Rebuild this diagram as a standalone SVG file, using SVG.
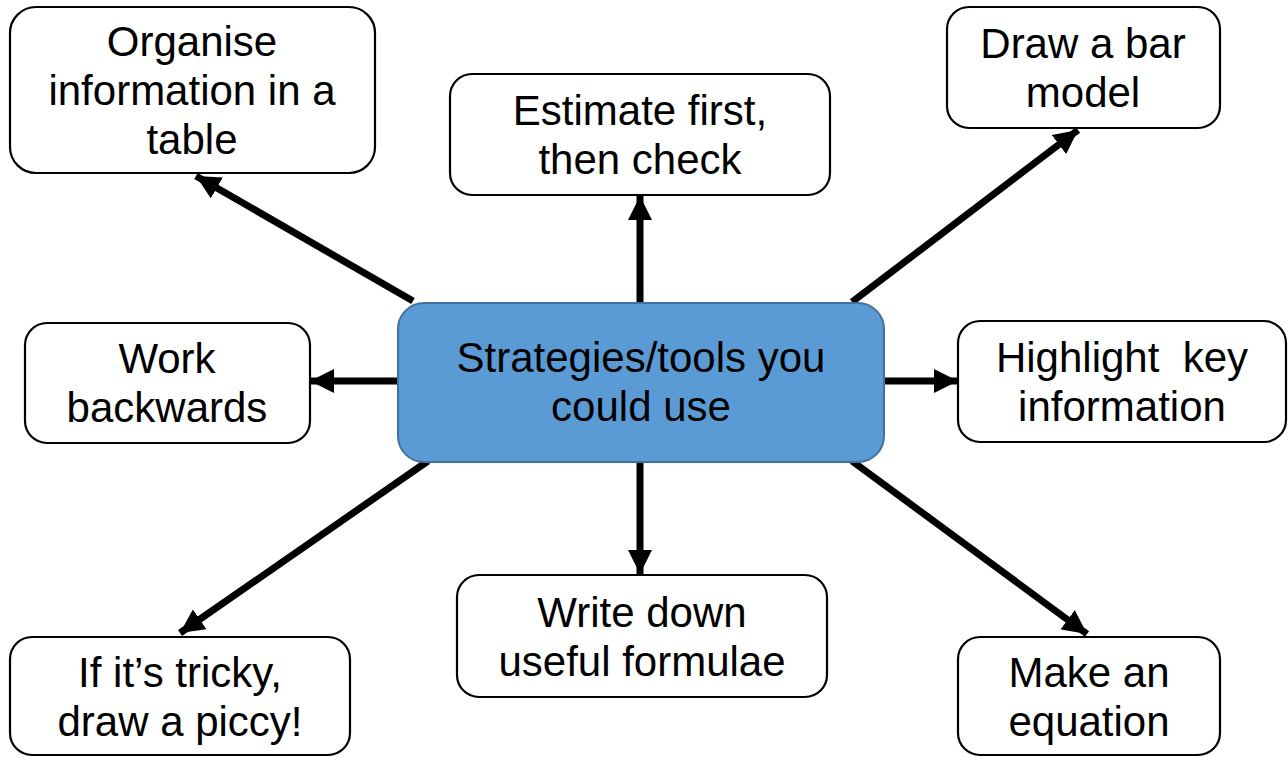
<svg xmlns="http://www.w3.org/2000/svg" width="1288" height="757" viewBox="0 0 1288 757">
  <style>
    .box { fill: #ffffff; stroke: #000000; stroke-width: 2.2; }
    .hub { fill: #5B9BD5; stroke: #41719C; stroke-width: 2; }
    .label { font-family: "Liberation Sans", Arial, sans-serif; font-size: 42px; fill: #000000; text-anchor: middle; }
    .conn { stroke: #000000; stroke-width: 7; fill: none; marker-end: url(#head); }
  </style>
  <defs>
    <marker id="head" markerUnits="userSpaceOnUse" markerWidth="24" markerHeight="24" viewBox="0 0 24 24" refX="24" refY="12" orient="auto">
      <path d="M0,0 L24,12 L0,24 z" fill="#000000"/>
    </marker>
  </defs>
  <rect width="1288" height="757" fill="#ffffff"/>

  <!-- connectors from the hub to each strategy -->
  <g id="connectors">
    <line class="conn" x1="413" y1="301" x2="196" y2="176"/>
    <line class="conn" x1="640" y1="302" x2="640" y2="196"/>
    <line class="conn" x1="852" y1="302" x2="1078" y2="130"/>
    <line class="conn" x1="399" y1="381" x2="310" y2="381"/>
    <line class="conn" x1="884" y1="381" x2="958" y2="381"/>
    <line class="conn" x1="428" y1="461" x2="180" y2="633"/>
    <line class="conn" x1="640" y1="462" x2="640" y2="574"/>
    <line class="conn" x1="852" y1="461" x2="1087" y2="634"/>
  </g>

  <g id="hub">
    <rect class="hub" x="398" y="303" width="486" height="159" rx="26" ry="26"/>
    <text class="label" x="641" y="372">Strategies/tools you</text>
    <text class="label" x="641" y="421">could use</text>
  </g>

  <g id="organise">
    <rect class="box" x="10" y="7" width="365" height="166" rx="26" ry="26"/>
    <text class="label" x="192" y="56">Organise</text>
    <text class="label" x="192" y="105">information in a</text>
    <text class="label" x="192" y="154">table</text>
  </g>

  <g id="estimate">
    <rect class="box" x="450" y="74" width="380" height="121" rx="22" ry="22"/>
    <text class="label" x="640" y="125">Estimate first,</text>
    <text class="label" x="640" y="174">then check</text>
  </g>

  <g id="bar-model">
    <rect class="box" x="947" y="7" width="273" height="121" rx="22" ry="22"/>
    <text class="label" x="1083" y="58">Draw a bar</text>
    <text class="label" x="1083" y="107">model</text>
  </g>

  <g id="work-backwards">
    <rect class="box" x="25" y="323" width="285" height="120" rx="22" ry="22"/>
    <text class="label" x="167" y="373">Work</text>
    <text class="label" x="167" y="422">backwards</text>
  </g>

  <g id="highlight">
    <rect class="box" x="958" y="321" width="328" height="121" rx="22" ry="22"/>
    <text class="label" x="1122" y="372" xml:space="preserve">Highlight  key</text>
    <text class="label" x="1122" y="421">information</text>
  </g>

  <g id="piccy">
    <rect class="box" x="10" y="637" width="340" height="118" rx="22" ry="22"/>
    <text class="label" x="180" y="687">If it’s tricky,</text>
    <text class="label" x="180" y="736">draw a piccy!</text>
  </g>

  <g id="formulae">
    <rect class="box" x="457" y="575" width="370" height="122" rx="22" ry="22"/>
    <text class="label" x="642" y="627">Write down</text>
    <text class="label" x="642" y="676">useful formulae</text>
  </g>

  <g id="equation">
    <rect class="box" x="958" y="637" width="262" height="118" rx="22" ry="22"/>
    <text class="label" x="1089" y="687">Make an</text>
    <text class="label" x="1089" y="736">equation</text>
  </g>
</svg>
